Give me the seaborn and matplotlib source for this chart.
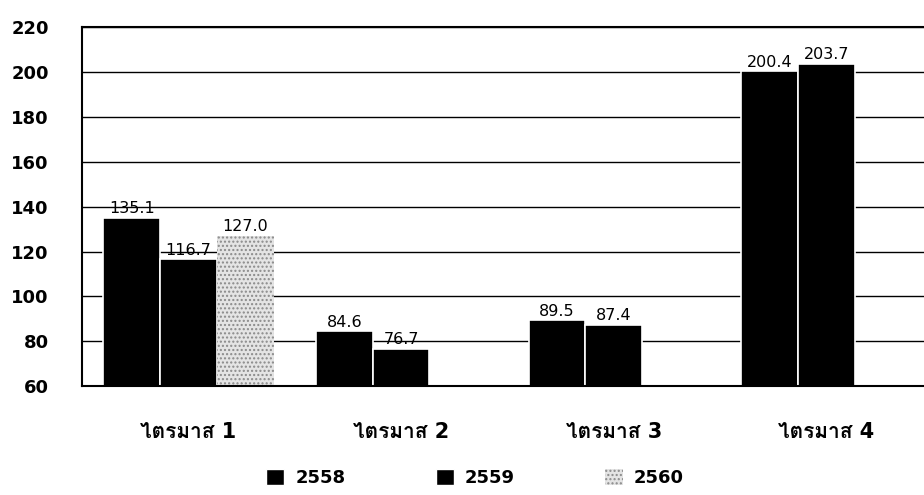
import matplotlib
matplotlib.use('Agg')
import matplotlib.pyplot as plt
from matplotlib import font_manager, ft2font
from matplotlib.patches import Patch
import seaborn as sns
import pandas as pd
import numpy as np

# data
quarters = ['ไตรมาส 1', 'ไตรมาส 2', 'ไตรมาส 3', 'ไตรมาส 4']
years = ['2558', '2559', '2560']
v2558 = [135.1, 84.6, 89.5, 200.4]
v2559 = [116.7, 76.7, 87.4, 203.7]
v2560 = [127.0, np.nan, np.nan, np.nan]
yticks = [60, 80, 100, 120, 140, 160, 180, 200, 220]


def has_thai(path):
    try:
        return 0x0E44 in ft2font.FT2Font(path).get_charmap()
    except Exception:
        return False


thai_fonts = []
for f in font_manager.fontManager.ttflist:
    if f.name not in thai_fonts and has_thai(f.fname):
        thai_fonts.append(f.name)

sns.set_theme(style="white")
plt.rcParams['font.family'] = ['DejaVu Sans'] + thai_fonts[:1]
plt.rcParams['text.color'] = 'black'
plt.rcParams['xtick.color'] = 'black'
plt.rcParams['ytick.color'] = 'black'

df = pd.DataFrame({
    'quarter': quarters * 3,
    'year': [y for y in years for _ in quarters],
    'value': v2558 + v2559 + v2560,
}).dropna()

fig = plt.figure(figsize=(9.24, 4.95), dpi=100)
ax = fig.add_axes([0.089, 0.22, 0.911, 0.725])

sns.barplot(data=df, x='quarter', y='value', hue='year', order=quarters,
            hue_order=years, palette=['black', 'black', '#e4e4e4'],
            edgecolor='white', linewidth=1.2, legend=False, ax=ax)

for bar in ax.containers[2]:
    bar.set_edgecolor('#8a8a8a')
    bar.set_hatch('....')
    bar.set_linewidth(0)

for cont in ax.containers:
    ax.bar_label(cont, fmt='%.1f', padding=1, fontsize=11.5, color='black')

ax.set_ylim(60, 220)
ax.set_xlim(-0.5, 3.46)
ax.set_yticks(yticks)
ax.yaxis.grid(True, color='black', linewidth=1)
ax.set_axisbelow(True)
ax.set_xlabel('')
ax.set_ylabel('')
for side in ['left', 'top', 'bottom']:
    ax.spines[side].set_visible(True)
    ax.spines[side].set_color('black')
    ax.spines[side].set_linewidth(1.5)
ax.spines['right'].set_visible(False)

ax.tick_params(axis='y', length=0, pad=24, labelsize=13, labelcolor='black')
ax.tick_params(axis='x', length=0, pad=26, labelsize=15, labelcolor='black')
for lab in ax.get_yticklabels() + ax.get_xticklabels():
    lab.set_fontweight('bold')

handles = [Patch(facecolor='black', edgecolor='white'),
           Patch(facecolor='black', edgecolor='white'),
           Patch(facecolor='#e4e4e4', edgecolor='#8a8a8a', hatch='....', linewidth=0)]
fig.legend(handles, years, loc='center', bbox_to_anchor=(0.514, 0.035), ncol=3,
           frameon=False, handlelength=1.0, handleheight=1.0, handletextpad=0.6,
           columnspacing=5.0, labelcolor='black', prop={'weight': 'bold', 'size': 13})

fig.savefig('out.png', dpi=100)
